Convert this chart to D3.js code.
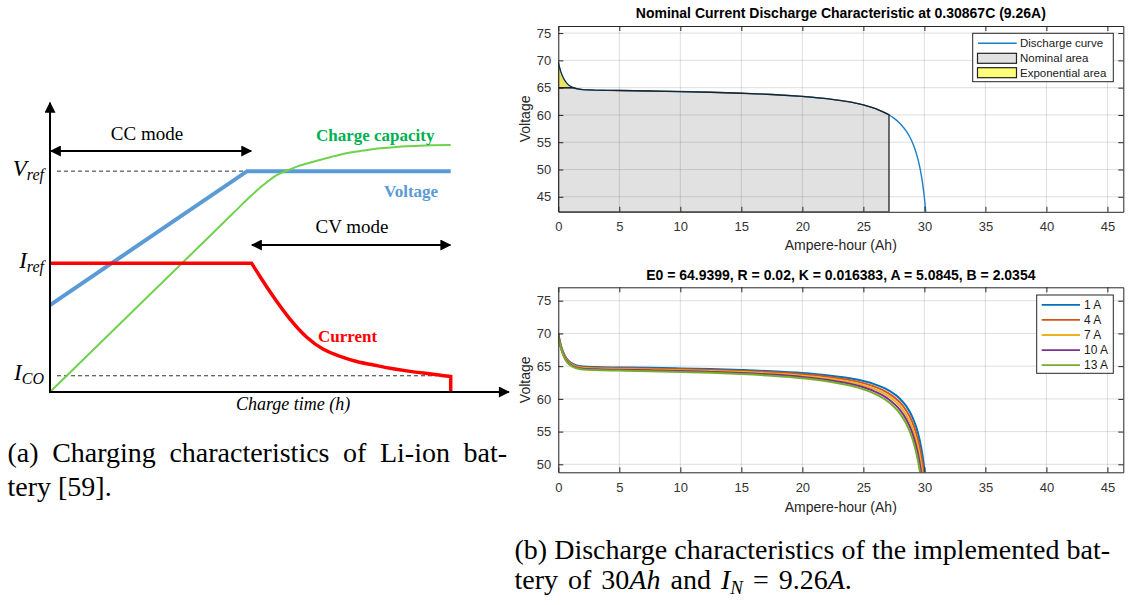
<!DOCTYPE html>
<html><head><meta charset="utf-8">
<script src="https://cdn.jsdelivr.net/npm/d3@7"></script>
<style>body{margin:0;background:#fff}svg{display:block}</style>
</head><body><svg id="fig" width="1132" height="605"></svg>
<script>
// ---------- Panel (a): charging characteristics (schematic, time 0..100, level 0..100) ----------
const chargeVoltage = [[0,30.5],[49.2,77.5],[100,77.5]];
const chargeCurrent = [[0,45.2],[50.3,45.2],[52.4,40.5],[55.7,33.4],[59.9,25.3],[64.1,18.8],[68.2,14.7],[72.4,12.4],[76.5,10.6],[80.7,9.5],[84.9,8.3],[89.0,7.4],[93.2,6.6],[97.3,6.0],[100,5.4]];
const chargeCapacity = [[0,0],[45.7,62.7],[49.9,68.5],[53.2,72.6],[56.6,76.1],[59.5,77.9],[61.6,79.1],[65.7,80.8],[69.9,82.4],[74.0,83.8],[78.2,84.7],[82.4,85.5],[86.5,86.0],[90.7,86.3],[94.8,86.6],[100,86.7]];
const levelVref = 77.5, levelIref = 45.2, levelICO = 5.7;
const ccMode = [0, 50.2], cvMode = [50.4, 99.9];

// ---------- Panel (b) top: nominal current discharge at 9.26 A ----------
const nominalAh = [0,0.05,0.1,0.2,0.3,0.4,0.5,0.75,1,1.25,1.5,2,3,4,5,7.5,10,12.5,15,17.5,20,22,24,25,26,27,27.1,27.5,28,28.5,28.75,29,29.25,29.5,29.65,29.8,29.9,30,30.05,30.1,30.15];
const nominalV  = [69.69,69.19,68.75,67.98,67.36,66.85,66.43,65.69,65.25,64.98,64.81,64.64,64.54,64.51,64.48,64.39,64.29,64.16,63.98,63.75,63.40,62.99,62.34,61.85,61.17,60.15,60.02,59.42,58.45,57.08,56.18,55.04,53.58,51.63,50.12,48.22,46.67,44.82,43.74,42.54,41.21];
const Qexp = 1.25, Vexp = 64.98, Qnom = 27.1, Vnom = 60.02;

// ---------- Panel (b) bottom: discharge at several currents ----------
const currentAh = [0,0.1,0.2,0.3,0.5,0.75,1,1.5,2,3,5,7.5,10,12.5,15,17.5,20,22,24,25,26,27,28,28.5,29,29.3,29.5,29.7,29.8,29.9,30,30.05,30.1];
const v1A  = [69.99,69.05,68.28,67.66,66.73,66.00,65.55,65.12,64.95,64.86,64.80,64.74,64.65,64.55,64.41,64.22,63.95,63.62,63.11,62.72,62.18,61.37,60.01,58.93,57.30,55.87,54.59,52.93,51.89,50.65,49.18,48.32,47.37];
const v4A  = [69.88,68.94,68.18,67.55,66.62,65.89,65.44,65.01,64.84,64.74,64.68,64.61,64.52,64.41,64.26,64.05,63.75,63.39,62.83,62.41,61.81,60.92,59.44,58.26,56.48,54.91,53.52,51.69,50.56,49.21,47.59,46.66,45.62];
const v7A  = [69.77,68.83,68.07,67.44,66.51,65.78,65.33,64.89,64.73,64.63,64.57,64.49,64.39,64.27,64.10,63.88,63.55,63.16,62.55,62.09,61.45,60.48,58.88,57.59,55.66,53.96,52.44,50.46,49.23,47.76,46.01,44.99,43.86];
const v10A = [69.66,68.72,67.96,67.33,66.40,65.66,65.22,64.78,64.62,64.52,64.45,64.36,64.26,64.12,63.95,63.71,63.36,62.93,62.27,61.78,61.08,60.04,58.31,56.92,54.84,53.00,51.37,49.23,47.90,46.32,44.42,43.33,42.11];
const v13A = [69.55,68.61,67.85,67.22,66.29,65.55,65.11,64.67,64.50,64.40,64.33,64.24,64.12,63.98,63.79,63.53,63.16,62.71,62.00,61.46,60.72,59.60,57.74,56.25,54.02,52.04,50.29,48.00,46.57,44.87,42.84,41.66,40.36];
const currentNames = ["1 A","4 A","7 A","10 A","13 A"];
const currentColors = ["#0072bd","#d95319","#edb120","#7e2f8e","#77ac30"];

const xTicksAh = [0,5,10,15,20,25,30,35,40,45];
const yTicksTop = [45,50,55,60,65,70,75];
const yTicksBottom = [50,55,60,65,70,75];

const titleTop = "Nominal Current Discharge Characteristic at 0.30867C (9.26A)";
const titleBottom = "E0 = 64.9399, R = 0.02, K = 0.016383, A = 5.0845, B = 2.0354";

// =====================================================================
const svg = d3.select("#fig");
svg.append("rect").attr("width",1132).attr("height",605).attr("fill","#fff");
const defs = svg.append("defs");
defs.append("marker").attr("id","arr").attr("viewBox","0 0 10 10").attr("refX",9).attr("refY",5)
  .attr("markerUnits","userSpaceOnUse").attr("markerWidth",13).attr("markerHeight",11)
  .attr("orient","auto-start-reverse")
  .append("path").attr("d","M0,0 L10,5 L0,10 z").attr("fill","#000");

const SERIF = "'Liberation Serif','DejaVu Serif',serif";
const SANS = "'Liberation Sans',Arial,sans-serif";

// ---------------- Panel (a) ----------------
const xA = d3.scaleLinear().domain([0,100]).range([50,450.7]);
const yA = d3.scaleLinear().domain([0,100]).range([392,107]);
const A = svg.append("g");

A.append("line").attr("x1",57).attr("x2",xA(chargeVoltage[1][0])).attr("y1",yA(levelVref)).attr("y2",yA(levelVref))
  .attr("stroke","#333").attr("stroke-width",1).attr("stroke-dasharray","4,3");
A.append("line").attr("x1",57).attr("x2",xA(96.5)).attr("y1",yA(levelICO)).attr("y2",yA(levelICO))
  .attr("stroke","#333").attr("stroke-width",1).attr("stroke-dasharray","4,3");

const lineA = d3.line().x(d=>xA(d[0])).y(d=>yA(d[1]));
A.append("path").attr("d",lineA(chargeVoltage)).attr("fill","none").attr("stroke","#5b9bd5").attr("stroke-width",4);
A.append("path").attr("d",lineA.curve(d3.curveMonotoneX)(chargeCapacity)).attr("fill","none").attr("stroke","#6fd14c").attr("stroke-width",2);
const last = chargeCurrent[chargeCurrent.length-1];
A.append("path").attr("d",d3.line().x(d=>xA(d[0])).y(d=>yA(d[1])).curve(d3.curveBasis)(chargeCurrent.slice(1)).replace(/^M/,`M${xA(0)},${yA(levelIref)}L`) + `L${xA(last[0])},${yA(0)}`)
  .attr("fill","none").attr("stroke","#ff0000").attr("stroke-width",3.5).attr("stroke-linejoin","miter");

A.append("line").attr("x1",xA(0)).attr("y1",yA(0)+1).attr("x2",xA(0)).attr("y2",yA(101.5))
  .attr("stroke","#000").attr("stroke-width",2).attr("marker-end","url(#arr)");
A.append("line").attr("x1",xA(0)-1).attr("y1",yA(0)).attr("x2",xA(114.5)).attr("y2",yA(0))
  .attr("stroke","#000").attr("stroke-width",2).attr("marker-end","url(#arr)");

A.append("line").attr("x1",xA(ccMode[0])+1).attr("x2",xA(ccMode[1])).attr("y1",151).attr("y2",151)
  .attr("stroke","#000").attr("stroke-width",2).attr("marker-start","url(#arr)").attr("marker-end","url(#arr)");
A.append("line").attr("x1",xA(cvMode[0])).attr("x2",xA(cvMode[1])).attr("y1",245).attr("y2",245)
  .attr("stroke","#000").attr("stroke-width",2).attr("marker-start","url(#arr)").attr("marker-end","url(#arr)");

A.append("text").attr("x",147).attr("y",140).attr("text-anchor","middle").attr("font-family",SERIF).attr("font-size",19).text("CC mode");
A.append("text").attr("x",352).attr("y",233).attr("text-anchor","middle").attr("font-family",SERIF).attr("font-size",19).text("CV mode");
A.append("text").attr("x",316).attr("y",141).attr("font-family",SERIF).attr("font-weight","bold").attr("font-size",17).attr("fill","#00b050").text("Charge capacity");
A.append("text").attr("x",384).attr("y",196.5).attr("font-family",SERIF).attr("font-weight","bold").attr("font-size",17).attr("fill","#5b9bd5").text("Voltage");
A.append("text").attr("x",318).attr("y",341.5).attr("font-family",SERIF).attr("font-weight","bold").attr("font-size",17).attr("fill","#ff0000").text("Current");
A.append("text").attr("x",236).attr("y",410).attr("font-family",SERIF).attr("font-style","italic").attr("font-size",18).text("Charge time (h)");

function subLabel(main, sub, y){
  const t = A.append("text").attr("x",44).attr("y",y).attr("text-anchor","end")
    .attr("font-family",SERIF).attr("font-style","italic").attr("font-size",23);
  t.append("tspan").text(main);
  t.append("tspan").attr("font-size",16).attr("dy",4).text(sub);
}
subLabel("V","ref",yA(levelVref)+5);
subLabel("I","ref",yA(levelIref)+5);
subLabel("I","CO",yA(levelICO)+4);

// ---------------- Panel (b) ----------------
const xB = d3.scaleLinear().domain([0,46.3]).range([558.3,1123.3]);
const yTop = d3.scaleLinear().domain([42.25,76.3]).range([211.8,26]);
const yBot = d3.scaleLinear().domain([48.78,77.05]).range([472.3,287.3]);

function makeAxes(y, yTicks, id){
  const g = svg.append("g");
  const [x0,x1] = xB.range(); const [yb,yt] = y.range();
  defs.append("clipPath").attr("id",id).append("rect").attr("x",x0).attr("y",yt).attr("width",x1-x0).attr("height",yb-yt);
  g.append("rect").attr("x",x0).attr("y",yt).attr("width",x1-x0).attr("height",yb-yt).attr("fill","#fff");
  const under = g.append("g").attr("clip-path",`url(#${id})`);
  const grid = g.append("g");
  grid.selectAll("line.vx").data(xTicksAh).join("line").attr("x1",d=>xB(d)).attr("x2",d=>xB(d)).attr("y1",yt).attr("y2",yb)
    .attr("stroke","rgba(38,38,38,0.15)").attr("stroke-width",1);
  grid.selectAll("line.hy").data(yTicks).join("line").attr("y1",d=>y(d)).attr("y2",d=>y(d)).attr("x1",x0).attr("x2",x1)
    .attr("stroke","rgba(38,38,38,0.15)").attr("stroke-width",1);
  const over = g.append("g").attr("clip-path",`url(#${id})`);
  const ax = g.append("g").attr("font-family",SANS);
  const st = sel => { sel.select(".domain").attr("stroke","#262626").attr("stroke-width",1);
    sel.selectAll(".tick line").attr("stroke","#262626");
    sel.selectAll(".tick text").attr("fill","#333").attr("font-size",13).attr("font-family",SANS); };
  ax.append("g").attr("transform",`translate(0,${yb})`).call(d3.axisBottom(xB).tickValues(xTicksAh).tickSize(-5).tickSizeOuter(0).tickPadding(10)).call(st);
  ax.append("g").attr("transform",`translate(0,${yt})`).call(d3.axisTop(xB).tickValues(xTicksAh).tickSize(-5).tickSizeOuter(0).tickFormat("")).call(st);
  ax.append("g").attr("transform",`translate(${x0},0)`).call(d3.axisLeft(y).tickValues(yTicks).tickSize(-5).tickSizeOuter(0).tickPadding(7)).call(st);
  ax.append("g").attr("transform",`translate(${x1},0)`).call(d3.axisRight(y).tickValues(yTicks).tickSize(-5).tickSizeOuter(0).tickFormat("")).call(st);
  return {g, under, over, ax, x0, x1, yb, yt};
}

// ---- top axes ----
const T = makeAxes(yTop, yTicksTop, "clipTop");
const nominal = nominalAh.map((a,i)=>[a,nominalV[i]]);
const expPts = nominal.filter(d=>d[0]<=Qexp).concat([[Qexp,Vexp],[0,Vexp]]);
const nomPts = [[0,yTop.domain()[0]],[0,Vexp]].concat(nominal.filter(d=>d[0]>=Qexp && d[0]<=Qnom)).concat([[Qnom,yTop.domain()[0]]]);
const polyT = d3.line().x(d=>xB(d[0])).y(d=>yTop(d[1]));
T.under.append("path").attr("d",polyT(nomPts)+"Z").attr("fill","#e1e1e1");
T.under.append("path").attr("d",polyT(expPts)+"Z").attr("fill","#efe35c");
T.over.append("path").attr("d",d3.line().x(d=>xB(d[0])).y(d=>yTop(d[1])).curve(d3.curveMonotoneX)(nominal))
  .attr("fill","none").attr("stroke","#1b7fc6").attr("stroke-width",1.4);
T.over.append("path").attr("d",polyT(nomPts)+"Z").attr("fill","none").attr("stroke","#222").attr("stroke-width",1.3);
T.over.append("path").attr("d",polyT(expPts)+"Z").attr("fill","none").attr("stroke","#222").attr("stroke-width",1);
const LT = svg.append("g").attr("font-family",SANS).attr("font-size",11.5);
LT.append("rect").attr("x",972.7).attr("y",33.3).attr("width",140.6).attr("height",48.4).attr("fill","#fff").attr("stroke","#262626");
LT.append("line").attr("x1",978).attr("x2",1016.7).attr("y1",43.3).attr("y2",43.3).attr("stroke","#1b7fc6").attr("stroke-width",1.4);
LT.append("rect").attr("x",977.5).attr("y",53.3).attr("width",39).attr("height",10).attr("fill","#e1e1e1").attr("stroke","#222").attr("stroke-width",1.2);
LT.append("rect").attr("x",977.5).attr("y",67.7).attr("width",39).attr("height",10).attr("fill","#ffff78").attr("stroke","#222").attr("stroke-width",1.2);
["Discharge curve","Nominal area","Exponential area"].forEach((s,i)=>{
  LT.append("text").attr("x",1020).attr("y",[43.3,58.3,72.7][i]).attr("dy","0.35em").attr("fill","#1a1a1a").text(s);
});
svg.append("text").attr("x",(T.x0+T.x1)/2).attr("y",17.5).attr("text-anchor","middle").attr("font-family",SANS)
  .attr("font-weight","bold").attr("font-size",14).attr("fill","#000").text(titleTop);
svg.append("text").attr("x",(T.x0+T.x1)/2).attr("y",250).attr("text-anchor","middle").attr("font-family",SANS)
  .attr("font-size",14).attr("fill","#262626").text("Ampere-hour (Ah)");
svg.append("text").attr("transform",`translate(530,${(T.yt+T.yb)/2}) rotate(-90)`).attr("text-anchor","middle").attr("font-family",SANS)
  .attr("font-size",14).attr("fill","#262626").text("Voltage");

// ---- bottom axes ----
const B = makeAxes(yBot, yTicksBottom, "clipBot");
const series = [v1A,v4A,v7A,v10A,v13A];
const lineB = d3.line().x(d=>xB(d[0])).y(d=>yBot(d[1])).curve(d3.curveMonotoneX);
series.forEach((vals,k)=>{
  B.over.append("path").attr("d",lineB(currentAh.map((a,i)=>[a,vals[i]])))
    .attr("fill","none").attr("stroke",currentColors[k]).attr("stroke-width",2);
});
const LB = svg.append("g").attr("font-family",SANS).attr("font-size",12);
LB.append("rect").attr("x",1036.7).attr("y",295).attr("width",76.6).attr("height",78.3).attr("fill","#fff").attr("stroke","#262626");
currentNames.forEach((s,i)=>{
  const yy = 304.8 + i*15.1;
  LB.append("line").attr("x1",1041.7).attr("x2",1080).attr("y1",yy).attr("y2",yy).attr("stroke",currentColors[i]).attr("stroke-width",1.8);
  LB.append("text").attr("x",1084).attr("y",yy).attr("dy","0.35em").attr("fill","#1a1a1a").text(s);
});
svg.append("text").attr("x",(B.x0+B.x1)/2).attr("y",280).attr("text-anchor","middle").attr("font-family",SANS)
  .attr("font-weight","bold").attr("font-size",14).attr("fill","#000").text(titleBottom);
svg.append("text").attr("x",(B.x0+B.x1)/2).attr("y",511.5).attr("text-anchor","middle").attr("font-family",SANS)
  .attr("font-size",14).attr("fill","#262626").text("Ampere-hour (Ah)");
svg.append("text").attr("transform",`translate(530,${(B.yt+B.yb)/2}) rotate(-90)`).attr("text-anchor","middle").attr("font-family",SANS)
  .attr("font-size",14).attr("fill","#262626").text("Voltage");

// ---------------- captions ----------------
function justify(words, x0, x1, y){
  const nodes = words.map(w => svg.append("text").attr("y",y).attr("font-family",SERIF).attr("font-size",28).attr("fill","#000").text(w));
  const widths = nodes.map(n=>n.node().getComputedTextLength());
  const gap = (x1 - x0 - d3.sum(widths)) / (words.length - 1);
  let x = x0;
  nodes.forEach((n,i)=>{ n.attr("x",x); x += widths[i] + gap; });
}
justify(["(a)","Charging","characteristics","of","Li-ion","bat-"], 7.5, 507, 461.7);
svg.append("text").attr("x",7.5).attr("y",496).attr("font-family",SERIF).attr("font-size",28).text("tery [59].");
justify(["(b)","Discharge","characteristics","of","the","implemented","bat-"], 514.5, 1110, 558.5);
const cb = svg.append("text").attr("x",514.5).attr("y",589).attr("font-family",SERIF).attr("font-size",28).attr("word-spacing",3);
cb.append("tspan").text("tery of 30");
cb.append("tspan").attr("font-style","italic").text("Ah");
cb.append("tspan").text(" and ");
cb.append("tspan").attr("font-style","italic").text("I");
cb.append("tspan").attr("font-style","italic").attr("font-size",19).attr("dy",5).text("N");
cb.append("tspan").attr("dy",-5).text(" = 9.26");
cb.append("tspan").attr("font-style","italic").text("A");
cb.append("tspan").text(".");
</script></body></html>
